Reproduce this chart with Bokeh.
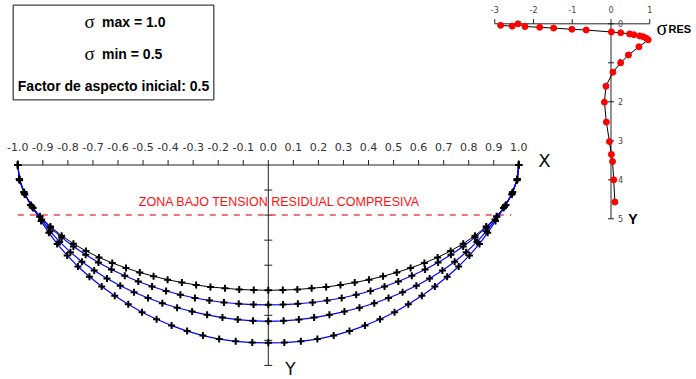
from bokeh.plotting import figure
from bokeh.models import Range1d
from bokeh.core.properties import value
from bokeh.embed import file_html
from bokeh.resources import INLINE

# ---------------- data ----------------
# initial shape (black) and evolved shapes (blue); x horizontal, depth y (down)
shape0_x = [-1.000, -0.994, -0.975, -0.947, -0.912, -0.870, -0.825, -0.778, -0.728, -0.676, -0.623,
            -0.568, -0.513, -0.458, -0.402, -0.345, -0.288, -0.231, -0.173, -0.116, -0.058, 0.000,
            0.058, 0.116, 0.173, 0.231, 0.288, 0.345, 0.402, 0.458, 0.513, 0.568, 0.623, 0.676,
            0.728, 0.778, 0.825, 0.870, 0.912, 0.947, 0.975, 0.994, 1.000]
shape0_y = [0.000, 0.057, 0.110, 0.161, 0.205, 0.246, 0.282, 0.314, 0.343, 0.369, 0.391,
            0.411, 0.429, 0.444, 0.458, 0.469, 0.479, 0.487, 0.492, 0.497, 0.499, 0.500,
            0.499, 0.497, 0.492, 0.487, 0.479, 0.469, 0.458, 0.444, 0.429, 0.411, 0.391, 0.369,
            0.343, 0.314, 0.282, 0.246, 0.205, 0.161, 0.110, 0.057, 0.000]

shape1_x = [-1.000, -0.994, -0.976, -0.949, -0.912, -0.870, -0.825, -0.778, -0.729, -0.678, -0.626,
            -0.573, -0.519, -0.464, -0.408, -0.351, -0.293, -0.235, -0.177, -0.118, -0.059, 0.000,
            0.059, 0.118, 0.177, 0.235, 0.293, 0.351, 0.408, 0.464, 0.519, 0.573, 0.626, 0.678,
            0.729, 0.778, 0.825, 0.870, 0.912, 0.949, 0.976, 0.994, 1.000]
shape1_y = [0.000, 0.056, 0.108, 0.160, 0.207, 0.250, 0.289, 0.325, 0.358, 0.389, 0.417,
            0.442, 0.465, 0.485, 0.503, 0.518, 0.531, 0.541, 0.549, 0.554, 0.557, 0.558,
            0.557, 0.554, 0.549, 0.541, 0.531, 0.518, 0.503, 0.485, 0.465, 0.442, 0.417, 0.389,
            0.358, 0.325, 0.289, 0.250, 0.207, 0.160, 0.108, 0.056, 0.000]

shape2_x = [-1.000, -0.993, -0.973, -0.943, -0.905, -0.871, -0.833, -0.790, -0.744, -0.695, -0.644,
            -0.591, -0.536, -0.480, -0.423, -0.364, -0.304, -0.244, -0.183, -0.122, -0.061, 0.000,
            0.061, 0.122, 0.183, 0.244, 0.304, 0.364, 0.423, 0.480, 0.536, 0.591, 0.644, 0.695,
            0.744, 0.790, 0.833, 0.871, 0.905, 0.943, 0.973, 0.993, 1.000]
shape2_y = [0.000, 0.059, 0.115, 0.167, 0.218, 0.264, 0.307, 0.348, 0.386, 0.421, 0.453,
            0.482, 0.508, 0.531, 0.552, 0.570, 0.585, 0.598, 0.609, 0.617, 0.622, 0.624,
            0.622, 0.617, 0.609, 0.598, 0.585, 0.570, 0.552, 0.531, 0.508, 0.482, 0.453, 0.421,
            0.386, 0.348, 0.307, 0.264, 0.218, 0.167, 0.115, 0.059, 0.000]

shape3_x = [-1.000, -0.993, -0.972, -0.939, -0.907, -0.876, -0.843, -0.803, -0.760, -0.714, -0.665,
            -0.613, -0.559, -0.504, -0.446, -0.386, -0.324, -0.261, -0.196, -0.130, -0.064, 0.000,
            0.064, 0.130, 0.196, 0.261, 0.324, 0.386, 0.446, 0.504, 0.559, 0.613, 0.665, 0.714,
            0.760, 0.803, 0.843, 0.876, 0.907, 0.939, 0.972, 0.993, 1.000]
shape3_y = [0.000, 0.061, 0.118, 0.172, 0.224, 0.270, 0.315, 0.361, 0.405, 0.446, 0.485,
            0.522, 0.556, 0.588, 0.616, 0.641, 0.663, 0.681, 0.695, 0.704, 0.709, 0.710,
            0.709, 0.704, 0.695, 0.681, 0.663, 0.641, 0.616, 0.588, 0.556, 0.522, 0.485, 0.446,
            0.405, 0.361, 0.315, 0.270, 0.224, 0.172, 0.118, 0.061, 0.000]

x_ticks = [-1.0, -0.9, -0.8, -0.7, -0.6, -0.5, -0.4, -0.3, -0.2, -0.1, 0.0,
           0.1, 0.2, 0.3, 0.4, 0.5, 0.6, 0.7, 0.8, 0.9, 1.0]
x_tick_labels = ["-1.0", "-0.9", "-0.8", "-0.7", "-0.6", "-0.5", "-0.4", "-0.3", "-0.2", "-0.1", "0.0",
                 "0.1", "0.2", "0.3", "0.4", "0.5", "0.6", "0.7", "0.8", "0.9", "1.0"]
y_ticks = [0.1, 0.2, 0.3, 0.4, 0.5, 0.6, 0.7, 0.8]

zone_depth = 0.2
zone_x = [-1.0, 0.97]
zone_label = "ZONA BAJO TENSION RESIDUAL COMPRESIVA"

info_sigma_max = "max = 1.0"
info_sigma_min = "min  = 0.5"
info_aspect = "Factor de aspecto inicial: 0.5"

# residual stress profile (inset)
res_sigma = [-2.85, -2.55, -2.40, -2.22, -1.84, -1.48, -1.01, -0.64, 0.01, 0.25, 0.48, 0.59, 0.74, 0.83,
             0.91, 0.96, 0.72, 0.45, 0.25, 0.05, -0.13, -0.17, -0.12, -0.04, 0.01, 0.04, 0.07, 0.10]
res_depth = [0.04, 0.06, 0.00, 0.07, 0.09, 0.11, 0.14, 0.16, 0.21, 0.23, 0.26, 0.28, 0.31, 0.33,
             0.37, 0.41, 0.59, 0.80, 1.00, 1.24, 1.60, 2.01, 2.52, 3.02, 3.35, 3.53, 4.00, 4.57]
res_x_ticks = [-3, -2, -1, 0, 1]
res_x_labels = ["-3", "-2", "-1", "0", "1"]
res_y_ticks = [0, 1, 2, 3, 4, 5]
res_y_labels = ["0", "1", "2", "3", "4", "5"]

# ---------------- layout / scales ----------------
W, H = 696, 379
X0PX, SX = 267.8, 250.5      # main plot: pixel of x=0, pixels per unit
Y0PX, SY = 164.5, 250.5
IX0PX, ISX = 610.5, 38.75     # inset
IY0PX, ISY = 23.3, 39.0


def mx(px):
    return (px - X0PX) / SX


def my(py):
    return (py - Y0PX) / SY


def ix(px):
    return (px - IX0PX) / ISX


def iy(py):
    return (py - IY0PX) / ISY


p = figure(width=W, height=H, output_backend="svg", toolbar_location=None,
           x_range=Range1d(mx(0), mx(W)), y_range=Range1d(my(H), my(0)),
           x_axis_location=None, y_axis_location=None, min_border=0)
p.grid.visible = False
p.outline_line_color = None
p.background_fill_color = "white"
p.border_fill_color = "white"
p.extra_x_ranges = {"ix": Range1d(ix(0), ix(W))}
p.extra_y_ranges = {"iy": Range1d(iy(H), iy(0))}

AX = "#222222"
TXT = "#333333"
FONT = value("DejaVu Sans")
ARIAL = value("Liberation Sans")

# ---- main axes ----
n = len(x_ticks)
p.line([x_ticks[0], x_ticks[-1]], [0, 0], line_color=AX, line_width=1)
p.segment(x0=x_ticks, y0=[0] * n, x1=x_ticks, y1=[-5 / SY] * n, line_color=AX, line_width=1)
p.text(x=x_ticks, y=[my(146)] * n, text=x_tick_labels, text_align="center", text_baseline="middle",
       text_font=FONT, text_font_size="11px", text_color=TXT)
m = len(y_ticks)
p.line([0, 0], [0, y_ticks[-1]], line_color=AX, line_width=1)
p.segment(x0=[-4 / SX] * m, y0=y_ticks, x1=[4 / SX] * m, y1=y_ticks, line_color=AX, line_width=1)
p.text(x=[mx(544)], y=[my(160)], text=["X"], text_align="center", text_baseline="middle",
       text_font=FONT, text_font_size="18px", text_color="#111111")
p.text(x=[mx(290)], y=[my(368)], text=["Y"], text_align="center", text_baseline="middle",
       text_font=FONT, text_font_size="17px", text_color="#111111")

# ---- compressive zone ----
p.line(zone_x, [zone_depth, zone_depth], line_color="#f04848", line_width=1.5, line_dash="6 6")
p.text(x=[mx(279.2)], y=[my(201.3)], text=[zone_label], text_align="center", text_baseline="middle",
       text_font=ARIAL, text_font_size="12.5px", text_color="#ff1010")

# ---- shapes ----
p.line(shape0_x, shape0_y, line_color="black", line_width=1)
for sx, sy in [(shape1_x, shape1_y), (shape2_x, shape2_y), (shape3_x, shape3_y)]:
    p.line(sx, sy, line_color="#0000ff", line_width=1.2)
for sx, sy in [(shape0_x, shape0_y), (shape1_x, shape1_y), (shape2_x, shape2_y), (shape3_x, shape3_y)]:
    p.scatter(sx, sy, marker="cross", size=7, line_color="black", line_width=2)

# ---- info box ----
p.quad(left=[mx(12.7)], right=[mx(213.3)], top=[my(4.7)], bottom=[my(99.3)],
       fill_color=None, line_color="#444444", line_width=1.3)
p.text(x=[mx(89), mx(89)], y=[my(21.3), my(53.3)], text=["σ", "σ"], text_align="center",
       text_baseline="middle", text_font=value("Liberation Serif"), text_font_size="19px",
       text_color="black")
p.text(x=[mx(101.5), mx(101.5)], y=[my(21.3), my(53.3)], text=[info_sigma_max, info_sigma_min],
       text_align="left", text_baseline="middle", text_font=ARIAL, text_font_size="14px",
       text_font_style="bold", text_color="black")
p.text(x=[mx(113)], y=[my(85)], text=[info_aspect], text_align="center", text_baseline="middle",
       text_font=ARIAL, text_font_size="14px", text_font_style="bold", text_color="black")

# ---- inset: residual stress ----
R = dict(x_range_name="ix", y_range_name="iy")
k = len(res_x_ticks)
p.line([res_x_ticks[0], res_x_ticks[-1]], [0, 0], line_color=AX, line_width=1, **R)
p.segment(x0=res_x_ticks, y0=[0] * k, x1=res_x_ticks, y1=[-4.7 / ISY] * k, line_color=AX,
          line_width=1, **R)
p.text(x=res_x_ticks, y=[iy(9)] * k, text=res_x_labels, text_align="center", text_baseline="middle",
       text_font=FONT, text_font_size="8px", text_color="#444444", **R)
j = len(res_y_ticks)
p.line([0, 0], [res_y_ticks[0], res_y_ticks[-1]], line_color=AX, line_width=1, **R)
p.segment(x0=[-3 / ISX] * j, y0=res_y_ticks, x1=[3 / ISX] * j, y1=res_y_ticks, line_color=AX,
          line_width=1, **R)
p.text(x=[ix(617.5)] * j, y=res_y_ticks, text=res_y_labels, text_align="left", text_baseline="middle",
       text_font=FONT, text_font_size="8px", text_color="#444444", **R)
p.line(res_sigma, res_depth, line_color="black", line_width=1, **R)
p.scatter(res_sigma, res_depth, marker="circle", size=6, fill_color="#ff0000", line_color="#ff0000", **R)
p.text(x=[ix(661.5)], y=[iy(27)], text=["σ"], text_align="center", text_baseline="middle",
       text_font=value("Liberation Serif"), text_font_size="20px", text_color="black", **R)
p.text(x=[ix(668)], y=[iy(28.8)], text=["RES"], text_align="left", text_baseline="middle",
       text_font=ARIAL, text_font_size="11px", text_font_style="bold", text_color="black", **R)
p.text(x=[ix(632.5)], y=[iy(218.5)], text=["Y"], text_align="center", text_baseline="middle",
       text_font=ARIAL, text_font_size="14px", text_font_style="bold", text_color="black", **R)

open("out.html", "w").write(file_html(p, INLINE))
